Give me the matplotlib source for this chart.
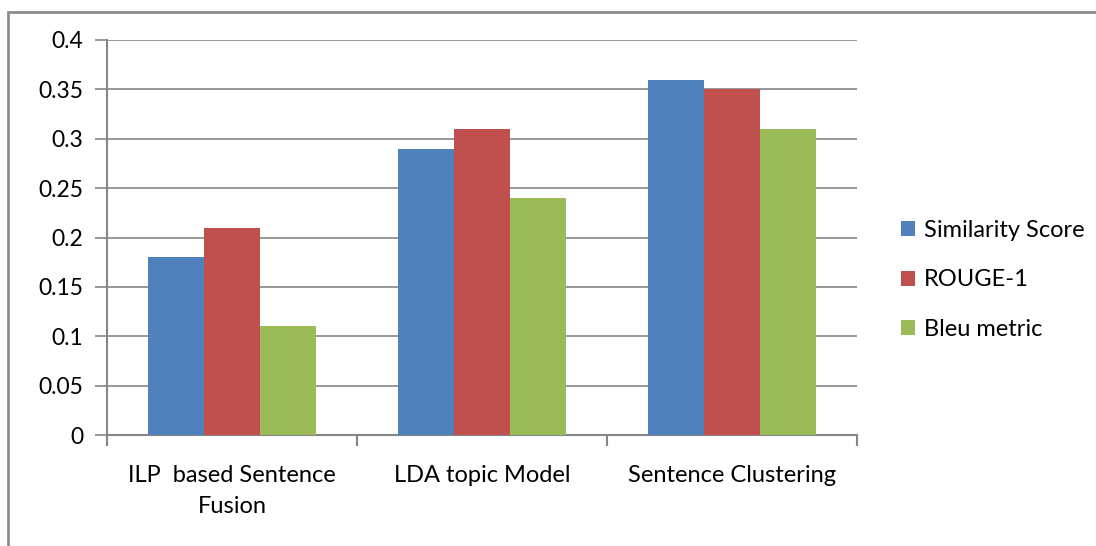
import numpy as np
import matplotlib.pyplot as plt
from matplotlib.patches import Patch, Rectangle

plt.rcParams['font.family'] = ['Lato', 'DejaVu Sans']

categories = ['ILP  based Sentence\nFusion', 'LDA topic Model', 'Sentence Clustering']
series_names = ['Similarity Score', 'ROUGE-1', 'Bleu metric']
similarity = [0.18, 0.29, 0.36]
rouge1 = [0.21, 0.31, 0.35]
bleu = [0.11, 0.24, 0.31]
yticks = [0, 0.05, 0.1, 0.15, 0.2, 0.25, 0.3, 0.35, 0.4]
ytick_labels = ['0', '0.05', '0.1', '0.15', '0.2', '0.25', '0.3', '0.35', '0.4']

colors = ['#4F81BD', '#C0504D', '#9BBB59']
grid_color = '#868686'

fig = plt.figure(figsize=(10.96, 5.46), dpi=100)
ax = fig.add_axes([107 / 1096, 1 - 435 / 546, 750 / 1096, 395 / 546])

x = np.arange(len(categories))
width = 0.223
for i, (vals, col) in enumerate(zip([similarity, rouge1, bleu], colors)):
    ax.bar(x + (i - 1) * width, vals, width, color=col, zorder=3)

ax.set_xlim(-0.5, len(categories) - 0.5)
ax.set_ylim(0, 0.4)
ax.set_yticks(yticks)
ax.set_yticklabels(ytick_labels, fontsize=16.5)
ax.yaxis.grid(True, color=grid_color, linewidth=1.2, zorder=0)

# category ticks sit on the boundaries between groups
ax.set_xticks(np.arange(len(categories) + 1) - 0.5)
ax.set_xticklabels([])
ax.tick_params(axis='x', length=8, width=1.5, color=grid_color)
ax.tick_params(axis='y', length=9, width=1.2, color=grid_color, pad=8)
for i, c in enumerate(categories):
    ax.text(i, -0.03, c, ha='center', va='top', fontsize=17,
            linespacing=1.6, transform=ax.transData)

for side in ['top', 'right']:
    ax.spines[side].set_visible(False)
for side in ['left', 'bottom']:
    ax.spines[side].set_color(grid_color)
    ax.spines[side].set_linewidth(1.5)

handles = [Patch(facecolor=c, label=n) for c, n in zip(colors, series_names)]
fig.legend(handles=handles, loc='center left', bbox_to_anchor=(880 / 1096, 1 - 280 / 546),
           frameon=False, fontsize=17, handlelength=0.6, handleheight=0.6,
           handletextpad=0.35, labelspacing=1.2)

# outer chart border (only left and top edges fall inside the canvas)
fig.patches.append(Rectangle((8 / 1096, -0.1), 1.2, 1 - 12 / 546 + 0.1,
                             transform=fig.transFigure, fill=False,
                             edgecolor='#8C8C8C', linewidth=2))

fig.savefig('out.png', dpi=100)
